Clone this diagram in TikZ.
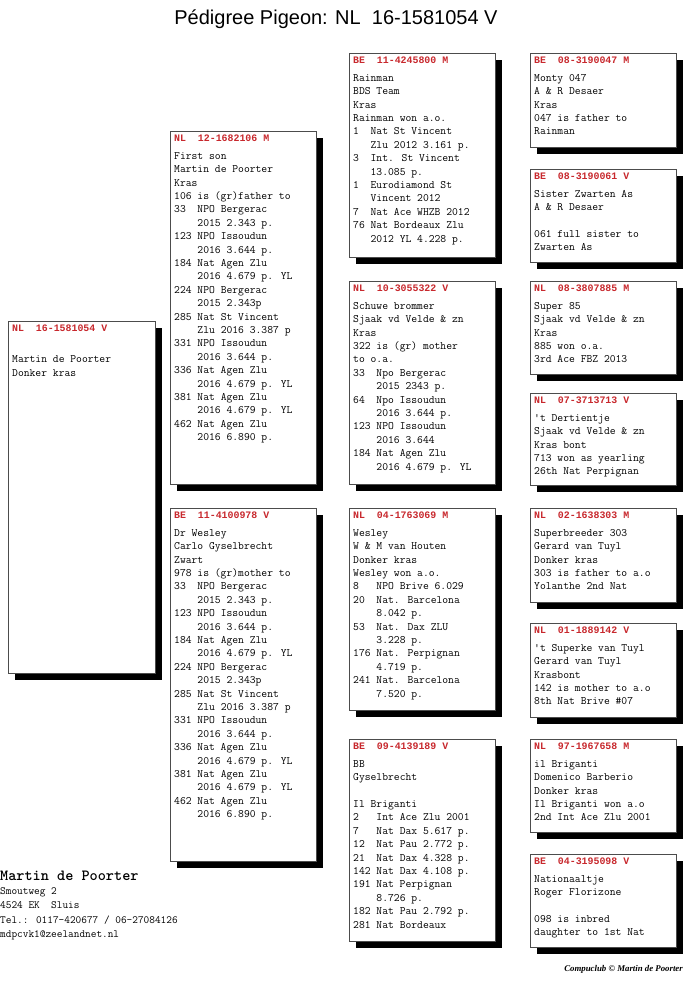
\documentclass[tikz,border=0pt]{standalone}
\usepackage{fontspec}
\newfontfamily\titlefont{Liberation Sans}
\newfontfamily\cpfont{Liberation Serif}
\newfontfamily\hdfont{Liberation Mono}
\usetikzlibrary{shadows,backgrounds,calc}
\definecolor{hdred}{RGB}{200,40,45}
\definecolor{linegray}{RGB}{90,90,90}
\newcommand\hd[1]{{\hdfont\fontsize{9.9}{13.4}\selectfont\bfseries\color{hdred}#1}}
\newcommand\ii{\phantom{0000}}
\newcommand\iii{\phantom{000}}
\tikzset{
 pbox/.style={draw=black!70, line width=0.8pt, fill=white, anchor=north west, minimum width=146pt, inner sep=0pt,
   drop shadow={fill=black, opacity=1, shadow xshift=6.5pt, shadow yshift=-6.5pt}},
 ptext/.style={anchor=north west, inner sep=0pt, align=left, font=\fontsize{11.3}{13.4}\selectfont\ttfamily},
 conn/.style={draw=linegray, line width=0.8pt},
}
\newcommand\pb[6]{%
 \node[pbox, minimum height=#4pt] (#1) at (#2,#3) {};
 \node[ptext] (#1t) at ([xshift=4pt]#1.north west) {\rule{0pt}{10pt}\hd{#5}\\[4.6pt]#6};}
\begin{document}
\begin{tikzpicture}[x=1pt,y=-1pt]
\useasboundingbox[fill=white] (0,0) rectangle (685,983);
\node[font=\fontsize{20}{24}\selectfont\titlefont, anchor=base, inner sep=0pt] (title) at (336,24) {Pédigree Pigeon: NL~~16-1581054 V};

\node[pbox, minimum width=147pt, minimum height=352pt] (S) at (8,321) {};
\node[ptext] (St) at ([xshift=4pt]S.north west) {\rule{0pt}{10pt}\hd{NL~~16-1581054 V}\\[4.6pt]\mbox{}\\Martin de Poorter\\Donker kras};

\pb{P1}{170}{131}{353}{NL~~12-1682106 M}{First son\\Martin de Poorter\\Kras\\106 is (gr)father to\\33~~NPO Bergerac\\\ii 2015 2.343 p.\\123 NPO Issoudun\\\ii 2016 3.644 p.\\184 Nat Agen Zlu\\\ii 2016 4.679 p. YL\\224 NPO Bergerac\\\ii 2015 2.343p\\285 Nat St Vincent\\\ii Zlu 2016 3.387 p\\331 NPO Issoudun\\\ii 2016 3.644 p.\\336 Nat Agen Zlu\\\ii 2016 4.679 p. YL\\381 Nat Agen Zlu\\\ii 2016 4.679 p. YL\\462 Nat Agen Zlu\\\ii 2016 6.890 p.}

\pb{P2}{170}{508}{353}{BE~~11-4100978 V}{Dr Wesley\\Carlo Gyselbrecht\\Zwart\\978 is (gr)mother to\\33~~NPO Bergerac\\\ii 2015 2.343 p.\\123 NPO Issoudun\\\ii 2016 3.644 p.\\184 Nat Agen Zlu\\\ii 2016 4.679 p. YL\\224 NPO Bergerac\\\ii 2015 2.343p\\285 Nat St Vincent\\\ii Zlu 2016 3.387 p\\331 NPO Issoudun\\\ii 2016 3.644 p.\\336 Nat Agen Zlu\\\ii 2016 4.679 p. YL\\381 Nat Agen Zlu\\\ii 2016 4.679 p. YL\\462 Nat Agen Zlu\\\ii 2016 6.890 p.}

\pb{G1}{349}{53}{204}{BE~~11-4245800 M}{Rainman\\BDS Team\\Kras\\Rainman won a.o.\\1~~Nat St Vincent\\\iii Zlu 2012 3.161 p.\\3~~Int. St Vincent\\\iii 13.085 p.\\1~~Eurodiamond St\\\iii Vincent 2012\\7~~Nat Ace WHZB 2012\\76 Nat Bordeaux Zlu\\\iii 2012 YL 4.228 p.}

\pb{G2}{349}{281}{203}{NL~~10-3055322 V}{Schuwe brommer\\Sjaak vd Velde \& zn\\Kras\\322 is (gr) mother\\to o.a.\\33~~Npo Bergerac\\\ii 2015 2343 p.\\64~~Npo Issoudun\\\ii 2016 3.644 p.\\123 NPO Issoudun\\\ii 2016 3.644\\184 Nat Agen Zlu\\\ii 2016 4.679 p. YL}

\pb{G3}{349}{508}{202}{NL~~04-1763069 M}{Wesley\\W \& M van Houten\\Donker kras\\Wesley won a.o.\\8~~~NPO Brive 6.029\\20~~Nat. Barcelona\\\ii 8.042 p.\\53~~Nat. Dax ZLU\\\ii 3.228 p.\\176 Nat. Perpignan\\\ii 4.719 p.\\241 Nat. Barcelona\\\ii 7.520 p.}

\pb{G4}{349}{739}{202}{BE~~09-4139189 V}{BB\\Gyselbrecht\\\mbox{}\\Il Briganti\\2~~~Int Ace Zlu 2001\\7~~~Nat Dax 5.617 p.\\12~~Nat Pau 2.772 p.\\21~~Nat Dax 4.328 p.\\142 Nat Dax 4.108 p.\\191 Nat Perpignan\\\ii 8.726 p.\\182 Nat Pau 2.792 p.\\281 Nat Bordeaux}

\pb{GG1}{530}{53}{94}{BE~~08-3190047 M}{Monty 047\\A \& R Desaer\\Kras\\047 is father to\\Rainman}
\pb{GG2}{530}{169}{93}{BE~~08-3190061 V}{Sister Zwarten As\\A \& R Desaer\\\mbox{}\\061 full sister to\\Zwarten As}
\pb{GG3}{530}{281}{93}{NL~~08-3807885 M}{Super 85\\Sjaak vd Velde \& zn\\Kras\\885 won o.a.\\3rd Ace FBZ 2013}
\pb{GG4}{530}{393}{92}{NL~~07-3713713 V}{'t Dertientje\\Sjaak vd Velde \& zn\\Kras bont\\713 won as yearling\\26th Nat Perpignan}
\pb{GG5}{530}{508}{94}{NL~~02-1638303 M}{Superbreeder 303\\Gerard van Tuyl\\Donker kras\\303 is father to a.o\\Yolanthe 2nd Nat}
\pb{GG6}{530}{623}{94}{NL~~01-1889142 V}{'t Superke van Tuyl\\Gerard van Tuyl\\Krasbont\\142 is mother to a.o\\8th Nat Brive \#07}
\pb{GG7}{530}{739}{93}{NL~~97-1967658 M}{il Briganti\\Domenico Barberio\\Donker kras\\Il Briganti won a.o\\2nd Int Ace Zlu 2001}
\pb{GG8}{530}{854}{93}{BE~~04-3195098 V}{Nationaaltje\\Roger Florizone\\\mbox{}\\098 is inbred\\daughter to 1st Nat}

\begin{pgfonlayer}{background}
\coordinate (sx) at (75,0);
\coordinate (bx) at (336,0);
\coordinate (cx) at (515,0);
\coordinate (p1l) at (170,271); \coordinate (p1r) at (316,271);
\coordinate (p2l) at (170,722); \coordinate (p2r) at (316,722);
\draw[conn] (sx |- S.north) -- (sx |- p1l) -- (p1l);
\draw[conn] (sx |- S.south) -- (sx |- p2l) -- (p2l);
\draw[conn] (p1r) -- (bx |- p1r);
\draw[conn] (p2r) -- (bx |- p2r);
\draw[conn] (G1.west) -- (bx |- G1.west) -- (bx |- G2.west) -- (G2.west);
\draw[conn] (G3.west) -- (bx |- G3.west) -- (bx |- G4.west) -- (G4.west);
\foreach \g/\a/\b in {G1/GG1/GG2, G2/GG3/GG4, G3/GG5/GG6, G4/GG7/GG8}{
  \draw[conn] (\g.east) -- (cx |- \g.east);
  \draw[conn] (\a.west) -- (cx |- \a.west) -- (cx |- \b.west) -- (\b.west);
}
\end{pgfonlayer}

\node[anchor=base west, inner sep=0pt, font=\fontsize{15.5}{16}\selectfont\ttfamily\bfseries] (own) at (0,880) {Martin de Poorter};
\node[anchor=north west, inner sep=0pt, align=left, font=\fontsize{11}{14.6}\selectfont\ttfamily] (addr) at (0,887) {Smoutweg 2\\4524 EK~~Sluis\\Tel.: 0117-420677 / 06-27084126\\mdpcvk1@zeelandnet.nl};
\node[anchor=base east, inner sep=0pt, font=\fontsize{8.8}{10}\selectfont\cpfont\bfseries\itshape] (cc) at (683,971) {Compuclub © Martin de Poorter};
\end{tikzpicture}
\end{document}
